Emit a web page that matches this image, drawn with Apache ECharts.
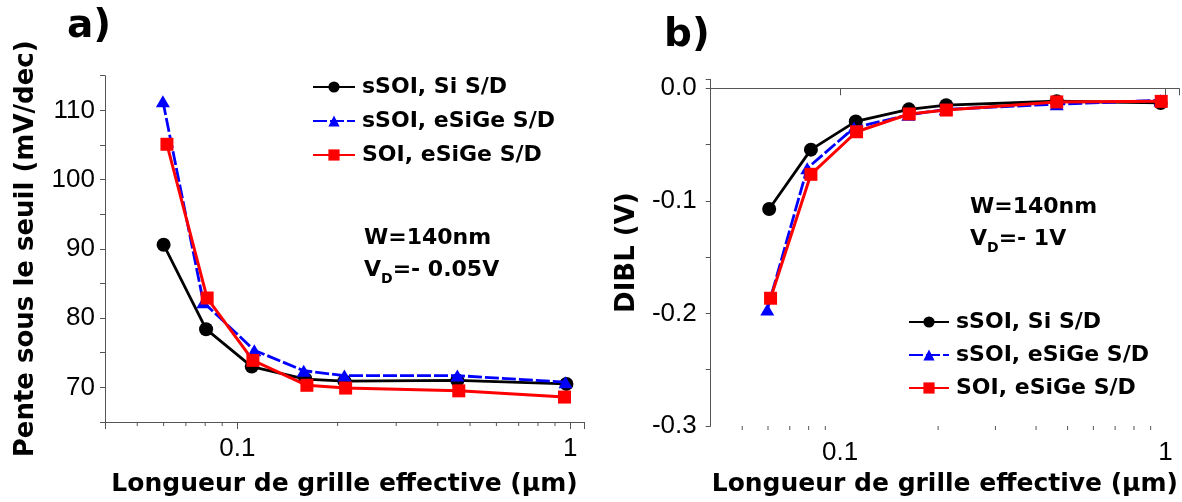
<!DOCTYPE html>
<html>
<head>
<meta charset="utf-8">
<script src="https://cdn.jsdelivr.net/npm/echarts@6/dist/echarts.min.js"></script>
<style>
  html, body { margin: 0; padding: 0; background: #fff; }
  #chart { width: 1182px; height: 502px; }
</style>
</head>
<body>
<div id="chart"></div>
<script>
// ---------- data ----------
const seriesNames = ['sSOI, Si S/D', 'sSOI, eSiGe S/D', 'SOI, eSiGe S/D'];

// Panel a) : Pente sous le seuil (mV/dec) vs L_eff (µm)
const aSiX    = [0.0600, 0.0805, 0.1104, 0.160, 0.2096, 0.458, 0.974];
const aSiY    = [90.6, 78.4, 73.0, 71.2, 70.9, 71.0, 70.5];
const aSSiGeX = [0.0597, 0.0790, 0.1124, 0.1582, 0.2096, 0.458, 0.968];
const aSSiGeY = [111.3, 82.3, 75.35, 72.4, 71.7, 71.7, 70.75];
const aSiGeX  = [0.0614, 0.0811, 0.1113, 0.1617, 0.2114, 0.4625, 0.961];
const aSiGeY  = [105.1, 82.9, 73.9, 70.3, 69.9, 69.5, 68.6];

// Panel b) : DIBL (V) vs L_eff (µm)
const bSiX    = [0.0605, 0.0813, 0.1117, 0.1626, 0.2118, 0.463, 0.966];
const bSiY    = [-0.1072, -0.0545, -0.0294, -0.0187, -0.0150, -0.0115, -0.0130];
const bSSiGeX = [0.0597, 0.0792, 0.1103, 0.162, 0.211, 0.463, 0.966];
const bSSiGeY = [-0.1966, -0.0711, -0.0351, -0.0236, -0.0187, -0.0141, -0.0107];
const bSiGeX  = [0.0611, 0.0813, 0.1123, 0.163, 0.212, 0.463, 0.970];
const bSiGeY  = [-0.1865, -0.0764, -0.0386, -0.0228, -0.0193, -0.0121, -0.0116];

// axis ranges / ticks
const xMin = 0.04, xMax = 1.1;
const xMinorTicks = [0.05, 0.06, 0.07, 0.08, 0.09, 0.2, 0.3, 0.4, 0.5, 0.6, 0.7, 0.8, 0.9];
const aYMin = 65, aYMax = 115, aYStep = 5;
const bYMin = -0.3, bYMax = 0.008, bYStep = 0.05;

const xTitle = 'Longueur de grille effective (µm)';
const aYTitle = 'Pente sous le seuil (mV/dec)';
const bYTitle = 'DIBL (V)';

// ---------- helpers ----------
const zip = (xs, ys) => xs.map((x, i) => [x, ys[i]]);
const BOLD = 'DejaVu Sans';
const REG = 'Liberation Sans';
const AX = '#555';

const styles = [
  { symbol: 'circle', symbolSize: 14, color: '#000000', line: { width: 2.8, type: 'solid' } },
  { symbol: 'triangle', symbolSize: [14, 12], color: '#0000ff', line: { width: 2.8, type: [14, 3] } },
  { symbol: 'rect', symbolSize: 13, color: '#ff0000', line: { width: 3, type: 'solid' } }
];

function lineSeries(idx, axisIdx, data) {
  const s = styles[idx];
  return {
    name: seriesNames[idx], type: 'line',
    xAxisIndex: axisIdx, yAxisIndex: axisIdx,
    data: data, symbol: s.symbol, symbolSize: s.symbolSize,
    showAllSymbol: true,
    lineStyle: { color: s.color, width: s.line.width, type: s.line.type },
    itemStyle: { color: s.color },
    z: 3 + idx, animation: false
  };
}

function minorTickSeries(axisIdx, yMin) {
  return {
    type: 'custom', xAxisIndex: axisIdx, yAxisIndex: axisIdx,
    silent: true, clip: false, z: 1, animation: false,
    data: xMinorTicks.map(v => [v, yMin]),
    encode: { x: 0, y: 1 },
    renderItem: function (params, api) {
      const p = api.coord([api.value(0), api.value(1)]);
      return { type: 'line', shape: { x1: p[0], y1: p[1], x2: p[0], y2: p[1] + 4 },
               style: { stroke: AX, lineWidth: 1 } };
    }
  };
}

function logLabel(v) {
  const l = Math.log10(v);
  if (Math.abs(l - Math.round(l)) < 1e-6) return Math.round(l) < 0 ? String(+v.toFixed(3)) : String(Math.round(v));
  return '';
}

function xAxisOpt(gridIdx, nameGap) {
  return {
    type: 'log', logBase: 10, gridIndex: gridIdx, min: xMin, max: xMax,
    axisLine: { show: true, lineStyle: { color: AX, width: 1 } },
    axisTick: { show: true, length: 7, lineStyle: { color: AX } },
    axisLabel: { formatter: logLabel, fontFamily: REG, fontSize: 26, color: '#000', margin: 14 },
    splitLine: { show: false }, minorTick: { show: false },
    name: xTitle, nameLocation: 'middle', nameGap: nameGap,
    nameTextStyle: { fontFamily: BOLD, fontWeight: 'bold', fontSize: 25, color: '#000' }
  };
}

const legendText = { fontFamily: BOLD, fontWeight: 'bold', fontSize: 22, color: '#000', lineHeight: 22, padding: [0, 0, 0, 2] };

const option = {
  animation: false,
  backgroundColor: '#ffffff',
  grid: [
    { left: 105, top: 75.7, width: 479, height: 352 },
    { left: 710.7, top: 79.3, width: 471.3, height: 351.7 }
  ],
  xAxis: [ xAxisOpt(0, 50), xAxisOpt(1, 46) ],
  yAxis: [
    {
      type: 'value', gridIndex: 0, min: aYMin, max: aYMax, interval: aYStep,
      axisLine: { show: true, lineStyle: { color: AX, width: 1 } },
      axisTick: { show: true, length: 5, lineStyle: { color: AX } },
      axisLabel: { formatter: v => (Math.abs(v % 10) < 1e-9 ? String(v) : ''), fontFamily: REG, fontSize: 26, color: '#000', margin: 10 },
      splitLine: { show: false },
      name: aYTitle, nameLocation: 'middle', nameGap: 66, nameRotate: 90,
      nameTextStyle: { fontFamily: BOLD, fontWeight: 'bold', fontSize: 26, color: '#000' }
    },
    {
      type: 'value', gridIndex: 1, min: bYMin, max: bYMax, interval: bYStep,
      axisLine: { show: true, lineStyle: { color: AX, width: 1 } },
      axisTick: { show: true, length: 5, lineStyle: { color: AX } },
      axisLabel: {
        formatter: v => {
          const t = v * 10;
          if (Math.abs(t - Math.round(t)) > 1e-6) return '';
          return Math.abs(v) < 1e-9 ? '0.0' : v.toFixed(1);
        },
        fontFamily: REG, fontSize: 26, color: '#000', margin: 14
      },
      splitLine: { show: false },
      name: bYTitle, nameLocation: 'middle', nameGap: 70, nameRotate: 90,
      nameTextStyle: { fontFamily: BOLD, fontWeight: 'bold', fontSize: 26, color: '#000' }
    }
  ],
  legend: [
    { data: seriesNames, orient: 'vertical', left: 312, top: 76, padding: 0, itemWidth: 42, itemHeight: 14, itemGap: 12,
      textStyle: legendText, selectedMode: false },
    { data: seriesNames, orient: 'vertical', left: 908, top: 311, padding: 0, itemWidth: 40, itemHeight: 14, itemGap: 11,
      textStyle: legendText, selectedMode: false }
  ],
  series: [
    minorTickSeries(0, aYMin),
    minorTickSeries(1, bYMin),
    lineSeries(0, 0, zip(aSiX, aSiY)),
    lineSeries(1, 0, zip(aSSiGeX, aSSiGeY)),
    lineSeries(2, 0, zip(aSiGeX, aSiGeY)),
    lineSeries(0, 1, zip(bSiX, bSiY)),
    lineSeries(1, 1, zip(bSSiGeX, bSSiGeY)),
    lineSeries(2, 1, zip(bSiGeX, bSiGeY))
  ],
  graphic: [
    { type: 'text', left: 67, top: 7, style: { text: 'a)', font: 'bold 39px "DejaVu Sans"', fill: '#000' } },
    { type: 'text', left: 664, top: 16, style: { text: 'b)', font: 'bold 39px "DejaVu Sans"', fill: '#000' } },
    { type: 'text', left: 364, top: 227, style: {
        text: '{n|W=140nm}\n{n|V}{s|D}{n|=- 0.05V}',
        rich: {
          n: { fontFamily: BOLD, fontWeight: 'bold', fontSize: 22, lineHeight: 32, fill: '#000' },
          s: { fontFamily: BOLD, fontWeight: 'bold', fontSize: 14, lineHeight: 32, verticalAlign: 'bottom', fill: '#000' }
        } } },
    { type: 'text', left: 970, top: 196, style: {
        text: '{n|W=140nm}\n{n|V}{s|D}{n|=- 1V}',
        rich: {
          n: { fontFamily: BOLD, fontWeight: 'bold', fontSize: 22, lineHeight: 32, fill: '#000' },
          s: { fontFamily: BOLD, fontWeight: 'bold', fontSize: 14, lineHeight: 32, verticalAlign: 'bottom', fill: '#000' }
        } } }
  ]
};

const chart = echarts.init(document.getElementById('chart'), null, { renderer: 'canvas' });
chart.setOption(option);
</script>
</body>
</html>
